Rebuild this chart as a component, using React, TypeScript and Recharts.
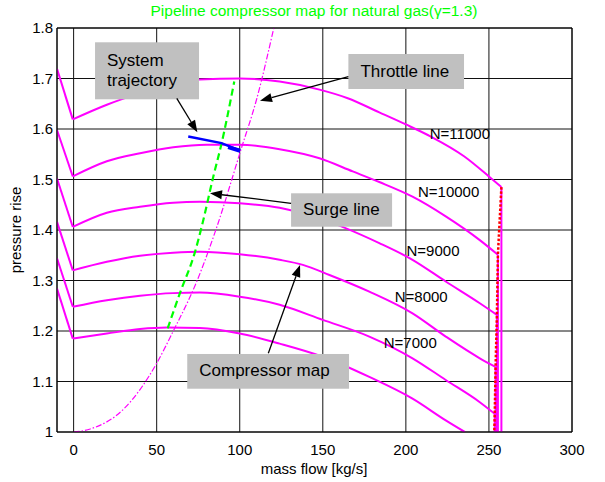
import { LineChart, Line, XAxis, YAxis, CartesianGrid, ReferenceArea, ReferenceLine, ReferenceDot } from "recharts"

type Pt = { x: number; y: number }

const FONT = '"Liberation Sans", Arial, Helvetica, sans-serif'
const MAGENTA = "#ff00ff"

const xTicks = [0, 50, 100, 150, 200, 250, 300]
const yTicks = [1, 1.1, 1.2, 1.3, 1.4, 1.5, 1.6, 1.7, 1.8]

// constant-speed lines (mass flow, pressure rise)
const n11000: Pt[] = [
  { x: -10, y: 1.719 }, { x: -0.5, y: 1.619 }, { x: 20, y: 1.648 }, { x: 40, y: 1.671 },
  { x: 60, y: 1.69 }, { x: 76, y: 1.698 }, { x: 100, y: 1.7 }, { x: 124, y: 1.694 },
  { x: 148, y: 1.678 }, { x: 165, y: 1.661 }, { x: 184, y: 1.633 }, { x: 200, y: 1.609 },
  { x: 215, y: 1.585 }, { x: 235, y: 1.546 }, { x: 250, y: 1.506 }, { x: 257.5, y: 1.485 },
]
const n10000: Pt[] = [
  { x: -10, y: 1.598 }, { x: -0.5, y: 1.506 }, { x: 20, y: 1.536 }, { x: 40, y: 1.552 },
  { x: 60, y: 1.564 }, { x: 80, y: 1.569 }, { x: 100, y: 1.569 }, { x: 124, y: 1.56 },
  { x: 148, y: 1.542 }, { x: 168, y: 1.516 }, { x: 184, y: 1.495 }, { x: 204, y: 1.466 },
  { x: 224, y: 1.427 }, { x: 244.5, y: 1.38 }, { x: 255.4, y: 1.351 },
]
const n9000: Pt[] = [
  { x: -10, y: 1.502 }, { x: -0.5, y: 1.406 }, { x: 20, y: 1.434 }, { x: 40, y: 1.446 },
  { x: 60, y: 1.454 }, { x: 76, y: 1.456 }, { x: 100, y: 1.453 }, { x: 124, y: 1.444 },
  { x: 148, y: 1.423 }, { x: 184, y: 1.374 }, { x: 204, y: 1.341 }, { x: 224, y: 1.298 },
  { x: 244.5, y: 1.255 }, { x: 254.8, y: 1.232 },
]
const n8000: Pt[] = [
  { x: -10, y: 1.416 }, { x: -0.5, y: 1.32 }, { x: 20, y: 1.337 }, { x: 40, y: 1.349 },
  { x: 60, y: 1.355 }, { x: 76, y: 1.357 }, { x: 100, y: 1.352 }, { x: 124, y: 1.341 },
  { x: 138, y: 1.331 }, { x: 154, y: 1.311 }, { x: 178, y: 1.278 }, { x: 204, y: 1.235 },
  { x: 224, y: 1.189 }, { x: 244.5, y: 1.146 }, { x: 254, y: 1.129 },
]
const n7000: Pt[] = [
  { x: -10, y: 1.344 }, { x: -0.5, y: 1.248 }, { x: 20, y: 1.261 }, { x: 40, y: 1.27 },
  { x: 60, y: 1.275 }, { x: 76, y: 1.276 }, { x: 100, y: 1.268 }, { x: 124, y: 1.252 },
  { x: 150, y: 1.222 }, { x: 178, y: 1.189 }, { x: 204, y: 1.146 }, { x: 224, y: 1.103 },
  { x: 244.5, y: 1.059 }, { x: 253.5, y: 1.036 },
]
const n6000: Pt[] = [
  { x: -10, y: 1.284 }, { x: -0.5, y: 1.185 }, { x: 20, y: 1.195 }, { x: 40, y: 1.204 },
  { x: 56, y: 1.207 }, { x: 76, y: 1.206 }, { x: 100, y: 1.195 }, { x: 124, y: 1.175 },
  { x: 150, y: 1.149 }, { x: 178, y: 1.109 }, { x: 204, y: 1.066 }, { x: 224, y: 1.023 },
  { x: 235.5, y: 1.0 },
]
const speedLines = [n11000, n10000, n9000, n8000, n7000, n6000]

const surgeLine: Pt[] = [
  { x: 56.6, y: 1.205 }, { x: 64, y: 1.275 }, { x: 73.1, y: 1.357 }, { x: 77.5, y: 1.412 },
  { x: 84.1, y: 1.506 }, { x: 89.1, y: 1.572 }, { x: 96.7, y: 1.694 },
]
const throttleLine: Pt[] = [
  { x: 0, y: 1.0 }, { x: 10, y: 1.006 }, { x: 30, y: 1.045 }, { x: 50, y: 1.136 },
  { x: 60, y: 1.2 }, { x: 74, y: 1.297 }, { x: 86, y: 1.404 }, { x: 101, y: 1.562 },
  { x: 110, y: 1.657 }, { x: 120.5, y: 1.8 },
]
const trajectory: Pt[] = [{ x: 69, y: 1.585 }, { x: 89, y: 1.572 }, { x: 100.2, y: 1.557 }]
const trajectoryEnd: Pt[] = [{ x: 93, y: 1.564 }, { x: 100.2, y: 1.557 }]
const chokeLine: Pt[] = [
  { x: 257.5, y: 1.485 }, { x: 255.4, y: 1.351 }, { x: 254.8, y: 1.232 },
  { x: 254, y: 1.129 }, { x: 253.5, y: 1.036 }, { x: 253.2, y: 1.0 },
]

const speedLabels = [
  { text: "N=11000", x: 214.4, y: 1.58 },
  { text: "N=10000", x: 207.3, y: 1.465 },
  { text: "N=9000", x: 200.4, y: 1.348 },
  { text: "N=8000", x: 193.3, y: 1.258 },
  { text: "N=7000", x: 186.7, y: 1.167 },
]

const boxes = [
  { lines: ["System", "trajectory"], x1: 12.9, x2: 75.5, y1: 1.6588, y2: 1.7717 },
  { lines: ["Throttle line"], x1: 165.4, x2: 235.0, y1: 1.6792, y2: 1.7485 },
  { lines: ["Surge line"], x1: 130.9, x2: 191.7, y1: 1.4065, y2: 1.4727 },
  { lines: ["Compressor map"], x1: 68.4, x2: 165.8, y1: 1.0857, y2: 1.1545 },
]

const arrows = [
  { from: { x: 62.1, y: 1.6608 }, to: { x: 74.5, y: 1.5935 } },
  { from: { x: 165.4, y: 1.7036 }, to: { x: 112.2, y: 1.656 } },
  { from: { x: 130.9, y: 1.4529 }, to: { x: 82.1, y: 1.4727 } },
  { from: { x: 117.2, y: 1.1558 }, to: { x: 136.3, y: 1.3307 } },
]

// steep straight fall to the minimum, then the smooth speed curve
const falls = speedLines.map((pts) => pts.slice(0, 2))
const curves = speedLines.map((pts) => pts.slice(1))
// vertical drop of each labelled speed line at its choke point
const drops = speedLines.slice(0, 5).map((pts) => {
  const last = pts[pts.length - 1]
  return [last, { x: last.x, y: 1 }]
})

function Box({ x, y, width, height, lines }: any) {
  const lh = 20
  const top = y + height / 2 - ((lines.length - 1) * lh) / 2 + 5
  return (
    <g>
      <rect x={x} y={y} width={width} height={height} fill="#c0c0c0" />
      <text x={x + 12} fontFamily={FONT} fontSize={17} fill="#000">
        {lines.map((l: string, i: number) => (
          <tspan key={i} x={x + 12} y={top + i * lh}>{l}</tspan>
        ))}
      </text>
    </g>
  )
}

function Arrow({ x1, y1, x2, y2 }: any) {
  const dx = x2 - x1
  const dy = y2 - y1
  const len = Math.hypot(dx, dy) || 1
  const ux = dx / len
  const uy = dy / len
  const hl = 12
  const hw = 4.5
  const bx = x2 - ux * hl
  const by = y2 - uy * hl
  return (
    <g>
      <line x1={x1} y1={y1} x2={bx} y2={by} stroke="#000" strokeWidth={1.3} />
      <polygon
        points={`${x2},${y2} ${bx - uy * hw},${by + ux * hw} ${bx + uy * hw},${by - ux * hw}`}
        fill="#000"
      />
    </g>
  )
}

export default function App() {
  return (
    <div style={{ position: "absolute", left: 0, top: 0, width: 605, height: 482, background: "#fff" }}>
      <LineChart width={605} height={482} margin={{ top: 28, right: 33, bottom: 0, left: 0 }}>
        <CartesianGrid stroke="#111" strokeWidth={1} />
        <XAxis
          dataKey="x"
          type="number"
          domain={[-10, 300]}
          ticks={xTicks}
          allowDataOverflow
          height={50}
          axisLine={false}
          tickLine={false}
          tickSize={0}
          tickMargin={12}
          tick={{ fill: "#000", fontSize: 15, fontFamily: FONT }}
        />
        <YAxis
          dataKey="y"
          type="number"
          domain={[1, 1.8]}
          ticks={yTicks}
          allowDataOverflow
          width={57}
          axisLine={false}
          tickLine={false}
          tickSize={0}
          tickMargin={4}
          tick={{ fill: "#000", fontSize: 15, fontFamily: FONT }}
          tickFormatter={(v: number) => String(v)}
        />
        {falls.map((pts, i) => (
          <Line key={`f${i}`} data={pts} dataKey="y" type="linear" stroke={MAGENTA} strokeWidth={2}
            dot={false} activeDot={false} isAnimationActive={false} />
        ))}
        {curves.map((pts, i) => (
          <Line key={`n${i}`} data={pts} dataKey="y" type="monotone" stroke={MAGENTA} strokeWidth={2}
            dot={false} activeDot={false} isAnimationActive={false} />
        ))}
        {drops.map((pts, i) => (
          <Line key={`d${i}`} data={pts} dataKey="y" type="linear" stroke={MAGENTA} strokeWidth={2}
            dot={false} activeDot={false} isAnimationActive={false} />
        ))}
        <Line data={throttleLine} dataKey="y" type="monotone" stroke={MAGENTA} strokeWidth={1.2}
          strokeDasharray="6 2 1.5 2" dot={false} activeDot={false} isAnimationActive={false} />
        <Line data={surgeLine} dataKey="y" type="monotone" stroke="#00ff00" strokeWidth={2.2}
          strokeDasharray="7 4" dot={false} activeDot={false} isAnimationActive={false} />
        <Line data={trajectory} dataKey="y" type="linear" stroke="#0000ff" strokeWidth={2.5}
          dot={false} activeDot={false} isAnimationActive={false} />
        <Line data={trajectoryEnd} dataKey="y" type="linear" stroke="#0000ff" strokeWidth={4}
          dot={false} activeDot={false} isAnimationActive={false} />
        <Line data={chokeLine} dataKey="y" type="linear" stroke="#ff0000" strokeWidth={2.5}
          strokeDasharray="2.5 1.8" dot={false} activeDot={false} isAnimationActive={false} />

        <ReferenceArea x1={-10} x2={300} y1={1} y2={1.8} fill="none" stroke="#000" strokeWidth={1} zIndex={700} />
        {boxes.map((b, i) => (
          <ReferenceArea key={`b${i}`} x1={b.x1} x2={b.x2} y1={b.y1} y2={b.y2} zIndex={800}
            shape={(p: any) => <Box {...p} lines={b.lines} />} />
        ))}
        {arrows.map((a, i) => (
          <ReferenceLine key={`a${i}`} segment={[a.from, a.to]} zIndex={900}
            shape={(p: any) => <Arrow {...p} />} />
        ))}
        {speedLabels.map((l) => (
          <ReferenceDot key={l.text} x={l.x} y={l.y} r={0} zIndex={900}
            shape={(p: any) => (
              <text x={p.cx} y={p.cy} fontFamily={FONT} fontSize={15} fill="#000">{l.text}</text>
            )} />
        ))}
      </LineChart>
      <svg width={605} height={482} style={{ position: "absolute", left: 0, top: 0, pointerEvents: "none" }}>
        <text x={314} y={16} textAnchor="middle" fontFamily={FONT} fontSize={15.5} fill="#00ff00">
          Pipeline compressor map for natural gas(γ=1.3)
        </text>
        <text x={314} y={474} textAnchor="middle" fontFamily={FONT} fontSize={15} fill="#000">
          mass flow [kg/s]
        </text>
        <text transform="rotate(-90)" x={-230} y={21} textAnchor="middle" fontFamily={FONT} fontSize={15} fill="#000">
          pressure rise
        </text>
      </svg>
    </div>
  )
}
